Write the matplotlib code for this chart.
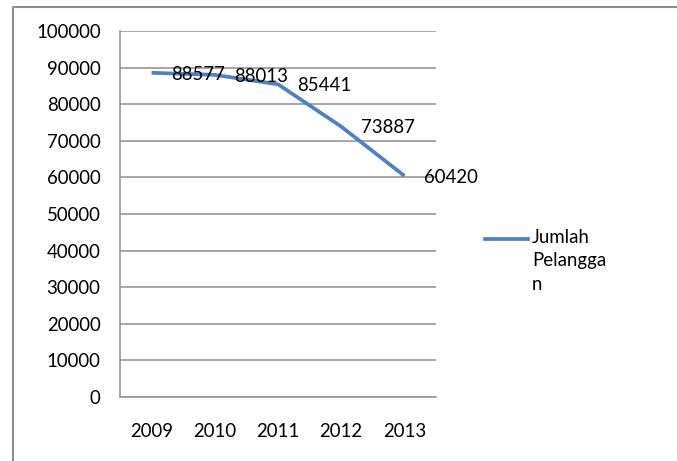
import matplotlib
matplotlib.use("Agg")
import matplotlib.pyplot as plt
from matplotlib.lines import Line2D

years = ["2009", "2010", "2011", "2012", "2013"]
customers = [88577, 88013, 85441, 73887, 60420]
series_name = "Jumlah Pelanggan"
legend_text = "Jumlah\nPelangga\nn"
y_ticks = [0, 10000, 20000, 30000, 40000, 50000, 60000, 70000, 80000, 90000, 100000]

plt.rcParams['font.family'] = ['Lato', 'DejaVu Sans']
FS = 13.4
W, H = 677, 461
fig = plt.figure(figsize=(W / 100, H / 100), dpi=100)
fig.patch.set_facecolor("white")

ax = fig.add_axes([120 / W, 1 - 397 / H, (436 - 120) / W, (397 - 31) / H])
x = list(range(len(years)))
ax.plot(x, customers, color="#4F81BD", lw=2.7, solid_capstyle="butt", zorder=3, label=series_name)
for xi, v in zip(x, customers):
    ax.annotate(str(v), (xi, v), xytext=(14, -1), textcoords="offset points",
                ha="left", va="center", fontsize=FS, color="black", zorder=4)

ax.set_xlim(-0.5, len(years) - 0.5)
ax.set_ylim(0, 100000)
ax.set_yticks(y_ticks)
ax.set_yticklabels([str(t) for t in y_ticks])
ax.set_xticks(x)
ax.set_xticklabels(years)
ax.tick_params(axis="both", length=0, labelsize=FS, colors="black")
ax.tick_params(axis="y", pad=14)
ax.tick_params(axis="x", pad=19)
ax.yaxis.grid(True, color="#969696", lw=1.2)
ax.set_axisbelow(True)
for s in ["top", "right"]:
    ax.spines[s].set_visible(False)
for s in ["left", "bottom"]:
    ax.spines[s].set_color("#969696")
    ax.spines[s].set_linewidth(1.2)

# legend drawn in figure coordinates
fig.add_artist(Line2D([485 / W, 528 / W], [1 - 239 / H, 1 - 239 / H],
                      color="#4F81BD", lw=2.7, transform=fig.transFigure))
fig.text(532 / W, 1 - 229 / H, legend_text, ha="left", va="top", fontsize=FS,
         linespacing=1.45, color="black")

# outer chart border
fig.add_artist(Line2D([13 / W, 13 / W, 1.0], [0.0, 1 - 7.5 / H, 1 - 7.5 / H],
                      color="#8c8c8c", lw=1.5, transform=fig.transFigure))

fig.savefig("out.png", dpi=100, facecolor="white")
